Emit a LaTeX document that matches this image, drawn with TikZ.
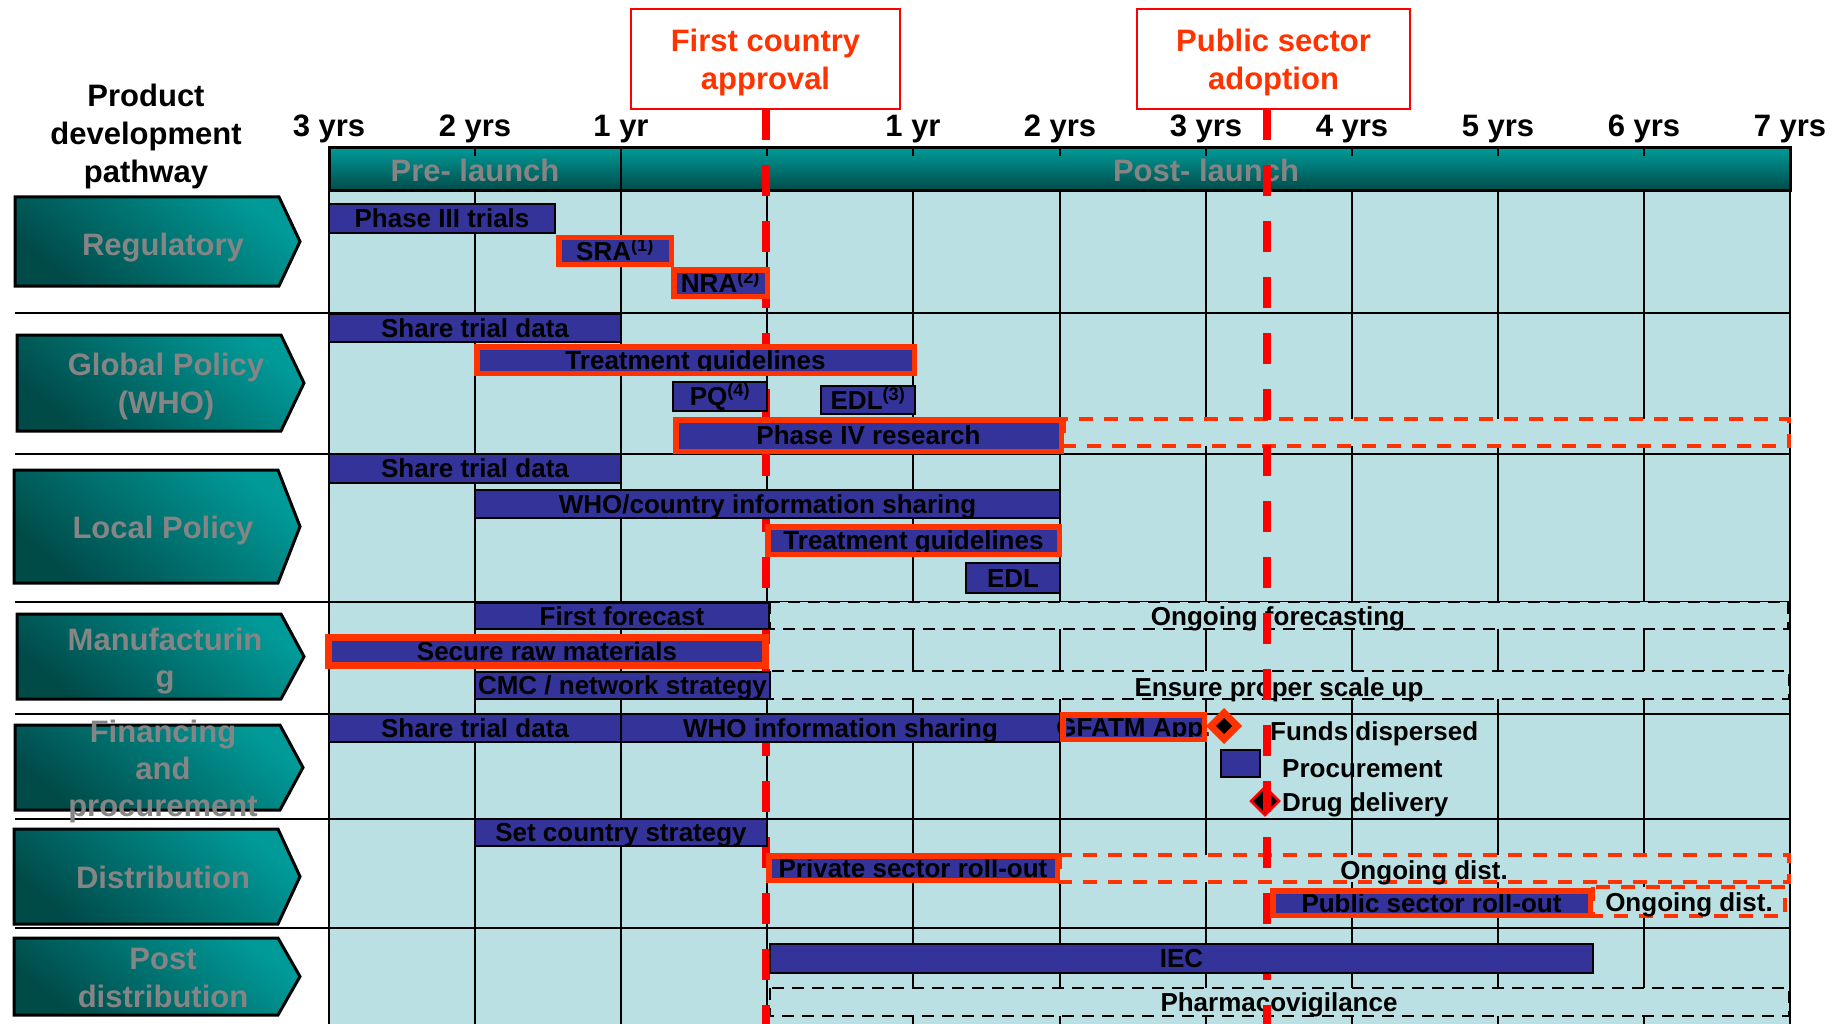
\documentclass[tikz,border=0pt]{standalone}
\usepackage{fontspec}
\setmainfont{Liberation Sans}

\definecolor{gridbg}{HTML}{BBE0E3}
\definecolor{barblue}{HTML}{333399}
\definecolor{hired}{HTML}{FF3300}
\definecolor{milered}{HTML}{FF0000}
\definecolor{tealhi}{HTML}{009A98}
\definecolor{teallo}{HTML}{004A48}
\definecolor{labgray}{HTML}{858585}

\tikzset{
  bigtext/.style={font=\fontsize{31}{38}\selectfont\bfseries, inner sep=0pt},
  bartext/.style={font=\fontsize{26}{30}\selectfont\bfseries, inner sep=0pt,
    text height=18.6pt, text depth=0pt, anchor=center},
  legtext/.style={font=\fontsize{26}{30}\selectfont\bfseries, inner sep=0pt,
    text height=18.6pt, text depth=0pt, anchor=west},
  bluebar/.style={fill=barblue, draw=black, line width=2.5pt},
  gridline/.style={line width=2.5pt, draw=black},
  blackdash/.style={draw=black, fill=gridbg, line width=2.5pt, dash pattern=on 12pt off 8pt},
  reddash/.style={draw=hired, fill=gridbg, line width=4.5pt, dash pattern=on 14pt off 11pt},
  milestone/.style={draw=milered, line width=8pt, dash pattern=on 31pt off 25pt},
  msbox/.style={draw=milered, line width=2pt, inner sep=0pt},
  mstext/.style={bigtext, text=hired, anchor=base},
  chev/.style={draw=black, line width=3pt, top color=tealhi, bottom color=teallo, shading angle=-40},
  chevtext/.style={bigtext, text=labgray, anchor=base},
}

% plain bar: name, x1, y1, x2, y2, label
\newcommand\ganttbar[6]{%
  \draw[bluebar] (#2,#3) rectangle (#4,#5);
  \node[bartext] (#1) at ({(#2+#4)/2},{(#3+#5)/2}) {#6};}
% highlighted bar: name, border width, x1, y1, x2, y2, label
\newcommand\keybar[7]{%
  \fill[barblue] (#3,#4) rectangle (#5,#6);
  \node[bartext] (#1) at ({(#3+#5)/2},{(#4+#6)/2}) {#7};
  \draw[draw=hired, line width=#2] (#3,#4) rectangle (#5,#6);}
% row label arrow: x-left, x-right, x-tip, y-top, y-bottom
\newcommand\chevron[5]{%
  \draw[chev] (#1,#4) -- (#2,#4) -- (#3,{(#4+#5)/2}) -- (#2,#5) -- (#1,#5) -- cycle;}

\begin{document}
\begin{tikzpicture}[x=1pt,y=-1pt]
\fill[white] (0,0) rectangle (1843,1024);
\useasboundingbox (0,0) rectangle (1843,1024);

% chart body and grid
\fill[gridbg] (329,191) rectangle (1790,1024);
\foreach \c in {475,621,767,913,1060,1206,1352,1498,1644}
  \draw[gridline] (\c,191) -- (\c,1024);
\foreach \r in {313,454,602,714,819,928}
  \draw[gridline] (15,\r) -- (1790,\r);
\draw[gridline] (329,148) -- (329,1024);
\draw[gridline] (1790,148) -- (1790,1024);

% phase header
\shade[top color=tealhi, bottom color=teallo] (329,148) rectangle (1790,191);
\draw[line width=3pt] (329,148) rectangle (1790,191);
\draw[gridline] (621,148) -- (621,191);
\foreach \c in {475,767,913,1060,1206,1352,1498,1644}
  \draw[line width=2pt] (\c,148) -- (\c,156);
\node[bigtext, text=labgray, anchor=base] (pre) at (475,182) {Pre- launch};
\node[bigtext, text=labgray, anchor=base] (post) at (1206,182) {Post- launch};

% time axis
\foreach \c/\t [count=\i] in {329/3 yrs, 475/2 yrs, 621/1 yr, 913/1 yr, 1060/2 yrs,
    1206/3 yrs, 1352/4 yrs, 1498/5 yrs, 1644/6 yrs, 1790/7 yrs}
  \node[bigtext, anchor=base] (yr\i) at (\c,137) {\t};

% title
\node[bigtext, anchor=base] (title1) at (146,107) {Product};
\node[bigtext, anchor=base] (title2) at (146,145) {development};
\node[bigtext, anchor=base] (title3) at (146,183) {pathway};

% row labels
\chevron{15}{279}{300}{197}{286}
\chevron{17}{281}{304}{335}{431}
\chevron{14}{278}{300}{470}{583}
\chevron{17}{281}{304}{614}{699}
\chevron{15}{280}{303}{725}{810}
\chevron{14}{278}{300}{829}{924}
\chevron{14}{278}{300}{938}{1015}
\node[chevtext] (reg) at (163,255) {Regulatory};
\node[chevtext] (glob1) at (166,375) {Global Policy};
\node[chevtext] (glob2) at (166,413) {(WHO)};
\node[chevtext] (loc) at (163,538) {Local Policy};
\node[chevtext] (man1) at (165,650) {Manufacturin};
\node[chevtext] (man2) at (165,687) {g};
\node[chevtext] (fin1) at (163,742) {Financing};
\node[chevtext] (fin2) at (163,779) {and};
\node[chevtext] (fin3) at (163,816) {procurement};
\node[chevtext] (dist) at (163,888) {Distribution};
\node[chevtext] (pd1) at (163,969) {Post};
\node[chevtext] (pd2) at (163,1007) {distribution};

% ongoing activities
\draw[reddash] (1064,419) rectangle (1789,446);
\draw[blackdash] (770,602) rectangle (1788,629);
\node[bartext] (ongf) at (1278,616) {Ongoing forecasting};
\draw[blackdash] (770,671) rectangle (1789,699);
\node[bartext] (scale) at (1279,687) {Ensure proper scale up};
\draw[reddash] (1060,855) rectangle (1789,882);
\node[bartext] (ongd1) at (1424,870) {Ongoing dist.};
\draw[reddash] (1593,887) rectangle (1785,916);
\node[bartext] (ongd2) at (1689,902) {Ongoing dist.};
\draw[blackdash] (770,988) rectangle (1789,1016);
\node[bartext] (pharm) at (1279,1002) {Pharmacovigilance};

% legend
\fill[hired] (1224,708) -- (1242,726) -- (1224,744) -- (1206,726) -- cycle;
\fill[black] (1224,718) -- (1232,726) -- (1224,734) -- (1216,726) -- cycle;
\draw[fill=barblue, line width=2.5pt] (1221,750) rectangle (1260,777);
\draw[draw=milered, fill=black, line width=2.5pt]
  (1265,787) -- (1279,801) -- (1265,815) -- (1251,801) -- cycle;
\node[legtext] (funds) at (1270,731) {Funds dispersed};
\node[legtext] (proc) at (1282,768) {Procurement};
\node[legtext] (drug) at (1282,802) {Drug delivery};

% milestones
\node[msbox, minimum width=269pt, minimum height=100pt] (fca) at (765.5,59) {};
\node[mstext] (fca1) at (765.5,52) {First country};
\node[mstext] (fca2) at (765.5,90) {approval};
\node[msbox, minimum width=273pt, minimum height=100pt] (psa) at (1273.5,59) {};
\node[mstext] (psa1) at (1273.5,52) {Public sector};
\node[mstext] (psa2) at (1273.5,90) {adoption};
\coordinate (fcaTop) at (766,109);
\coordinate (psaTop) at (1267,109);
\draw[milestone] (fcaTop) -- ++(0,915);
\draw[milestone] (psaTop) -- ++(0,915);

% regulatory
\ganttbar{p3}{329}{204}{555}{233}{Phase III trials}
\keybar{sra}{5.5pt}{558.75}{237.75}{671.25}{264.25}{SRA\textsuperscript{(1)}}
\keybar{nra}{5.5pt}{673.75}{269.75}{767.25}{296.25}{NRA\textsuperscript{(2)}}

% global policy
\ganttbar{gstd}{329}{314}{621}{342}{Share trial data}
\keybar{gtg}{5.5pt}{476.75}{346.75}{914.25}{373.25}{Treatment guidelines}
\ganttbar{pq}{673}{382}{767}{411}{PQ\textsuperscript{(4)}}
\ganttbar{edl3}{821}{386}{915}{414}{EDL\textsuperscript{(3)}}
\keybar{p4}{5.5pt}{675.75}{419.75}{1061.25}{451.25}{Phase IV research}

% local policy
\ganttbar{lstd}{329}{454}{621}{483}{Share trial data}
\ganttbar{who}{475}{490}{1060}{518}{WHO/country information sharing}
\keybar{ltg}{5.5pt}{767.75}{526.75}{1059.25}{554.25}{Treatment guidelines}
\ganttbar{edl}{966}{563}{1060}{593}{EDL}

% manufacturing
\ganttbar{ff}{475}{603}{769}{629}{First forecast}
\keybar{srm}{7pt}{328.5}{637.5}{765.5}{665.5}{Secure raw materials}
\ganttbar{cmc}{475}{672}{770}{699}{CMC / network strategy}

% financing and procurement
\ganttbar{fstd}{329}{714}{621}{742}{Share trial data}
\ganttbar{fwho}{621}{714}{1060}{742}{WHO information sharing}
\keybar{gfatm}{5.5pt}{1062.75}{714.75}{1204.25}{739.25}{GFATM App.}

% distribution
\ganttbar{scs}{475}{819}{767}{846}{Set country strategy}
\keybar{priv}{5.5pt}{768.75}{855.75}{1057.25}{880.25}{Private sector roll-out}
\keybar{pub}{5.5pt}{1272.75}{890.75}{1590.25}{915.25}{Public sector roll-out}

% post distribution
\ganttbar{iec}{770}{944}{1593}{973}{IEC}
\end{tikzpicture}
\end{document}
